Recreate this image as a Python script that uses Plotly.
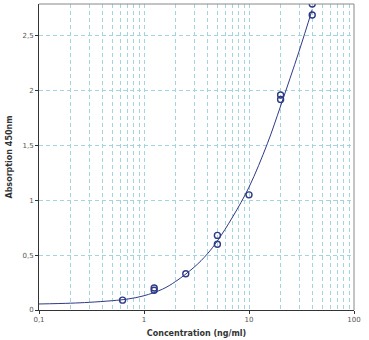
import plotly.graph_objects as go

# measured standards
conc = [0.625, 1.25, 1.25, 2.5, 5, 5, 10, 20, 20, 40, 40]
absorb = [0.09, 0.18, 0.20, 0.33, 0.60, 0.68, 1.05, 1.92, 1.96, 2.69, 2.79]

# fitted standard curve
curve_x = [0.1, 0.2, 0.3, 0.5, 0.7, 1, 1.5, 2, 3, 4, 5, 7, 10, 15, 20, 30, 40]
curve_y = [0.055, 0.062, 0.07, 0.085, 0.10, 0.13, 0.19, 0.26, 0.39, 0.51, 0.63, 0.85, 1.12, 1.52, 1.86, 2.36, 2.74]

x_ticks = [0.1, 1, 10, 100]
x_labels = ["0,1", "1", "10", "100"]
y_ticks = [0, 0.5, 1, 1.5, 2, 2.5]
y_labels = ["0", "0,5", "1", "1,5", "2", "2,5"]
x_minor = [m * d for d in [0.1, 1, 10] for m in range(2, 10)]

navy = "#2e3a86"
grid = "#a3d6dc"
dash = "4px,3px"

fig = go.Figure()
fig.add_trace(go.Scatter(x=curve_x, y=curve_y, mode="lines", line=dict(color=navy, width=1, shape="spline"),
                         showlegend=False, hoverinfo="skip"))
fig.add_trace(go.Scatter(x=conc, y=absorb, mode="markers",
                         marker=dict(symbol="circle-open", color=navy, size=6, line=dict(width=1.4)),
                         showlegend=False))

fig.update_layout(
    width=369, height=340,
    margin=dict(l=39, r=15, t=4, b=30),
    paper_bgcolor="white", plot_bgcolor="white",
    separators=",.",
    font=dict(family="DejaVu Sans", size=7, color="#555555"),
    xaxis=dict(
        type="log", range=[-1, 2],
        tickvals=x_ticks, ticktext=x_labels,
        showgrid=True, gridcolor=grid, griddash=dash, gridwidth=1,
        minor=dict(tickvals=x_minor, showgrid=True, gridcolor=grid, griddash=dash, gridwidth=1, ticks=""),
        showline=True, linecolor="#333333", linewidth=1, mirror=False,
        ticks="outside", ticklen=3, tickcolor="#333333",
        title=dict(text="<b>Concentration (ng/ml)</b>", font=dict(size=8, color="#333333"), standoff=6),
        zeroline=False,
    ),
    yaxis=dict(
        range=[0, 2.79],
        tickvals=y_ticks, ticktext=y_labels,
        showgrid=True, gridcolor=grid, griddash=dash, gridwidth=1,
        showline=True, linecolor="#333333", linewidth=1,
        ticks="outside", ticklen=3, tickcolor="#333333",
        title=dict(text="<b>Absorption 450nm</b>", font=dict(size=8, color="#333333"), standoff=8),
        zeroline=False,
    ),
    shapes=[
        dict(type="line", xref="paper", yref="paper", x0=0, x1=1, y0=1, y1=1, line=dict(color="#888888", width=1)),
        dict(type="line", xref="paper", yref="paper", x0=1, x1=1, y0=0, y1=1, line=dict(color="#888888", width=1)),
    ],
)

fig.write_html("out.html", config={"displayModeBar": False})

# remove the browser's default page margin so the figure sits at the window origin
with open("out.html", encoding="utf-8") as f:
    html = f.read()
html = html.replace("<head>", "<head><style>html,body{margin:0;padding:0;}</style>", 1)
with open("out.html", "w", encoding="utf-8") as f:
    f.write(html)
